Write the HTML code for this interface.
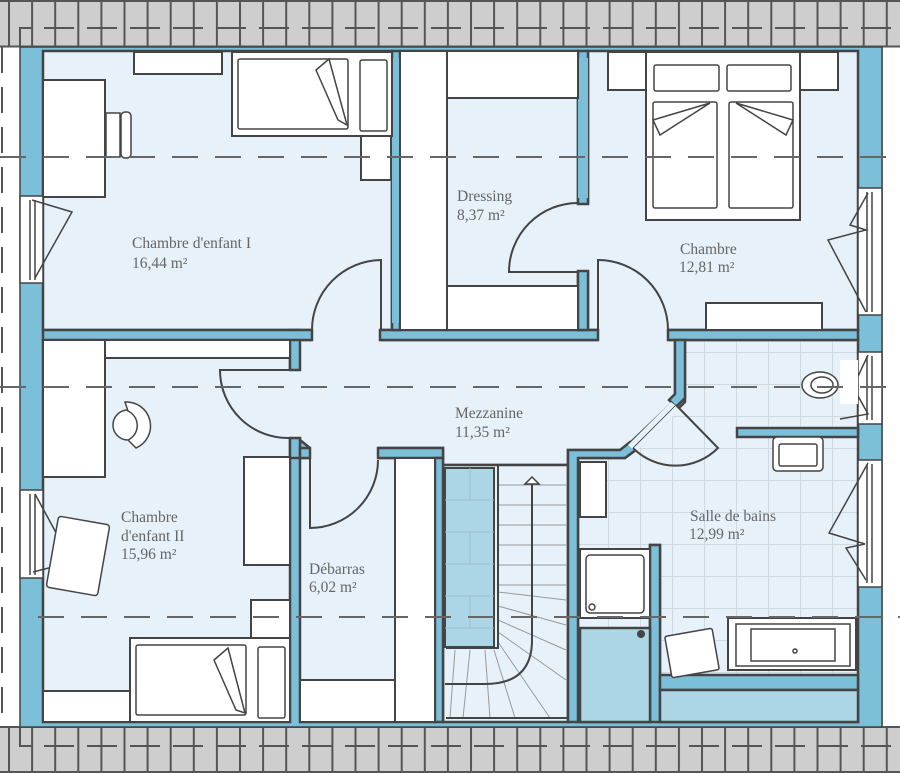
<!DOCTYPE html>
<html><head><meta charset="utf-8"><style>
html,body{margin:0;padding:0;background:#fff;}
svg{display:block;}
text{font-family:"Liberation Serif",serif;fill:#666;font-size:15.5px;}
</style></head><body>
<svg width="900" height="773" viewBox="0 0 900 773" xmlns="http://www.w3.org/2000/svg">
<defs>
<pattern id="tiles" x="0" y="0" width="32" height="32" patternUnits="userSpaceOnUse">
<rect width="32" height="32" fill="#e6f1f9"/>
<path d="M0 0.5H32M0.5 0V32" stroke="#cfd9e0" stroke-width="1"/>
</pattern>
<pattern id="roof" x="8" y="0" width="23.1" height="50" patternUnits="userSpaceOnUse">
<rect width="23.1" height="50" fill="#cecece"/>
<path d="M1 0V50" stroke="#555" stroke-width="2"/>
</pattern>
</defs>
<rect width="900" height="773" fill="#fff"/>
<rect x="0" y="0" width="900" height="47" fill="url(#roof)"/>
<rect x="0" y="0" width="900" height="2" fill="#555"/>
<rect x="0" y="45.5" width="900" height="2" fill="#555"/>
<path d="M20 47V28H900" stroke="#555" stroke-width="2" fill="none" stroke-dasharray="30 13"/>
<rect x="0" y="727" width="900" height="46" fill="url(#roof)"/>
<rect x="0" y="726" width="900" height="2" fill="#555"/>
<rect x="0" y="771" width="900" height="2" fill="#555"/>
<path d="M20 727V746H900" stroke="#555" stroke-width="2" fill="none" stroke-dasharray="30 13"/>
<path d="M2 47V727" stroke="#555" stroke-width="2" stroke-dasharray="26 14"/>
<path d="M882 47V727" stroke="#555" stroke-width="1.5"/>

<rect x="20" y="47" width="862" height="680" fill="#7bbfd9"/>
<rect x="20" y="47" width="862" height="680" fill="none" stroke="#444" stroke-width="1.5"/>

<g fill="#e6f1f9" stroke="#444" stroke-width="2.5">
<rect x="43" y="51" width="349" height="279"/>
<rect x="400" y="51" width="178" height="279"/>
<rect x="588" y="51" width="270" height="279"/>
<rect x="43" y="340" width="247" height="382"/>
<rect x="300" y="458" width="135" height="264"/>
<polygon points="300,340 675,340 675,400 630,443 620,450 568,450 568,465 443,465 443,448 310,448 300,440"/>
<rect x="443" y="465" width="125" height="257"/>
</g>
<polygon points="685,340 858,340 858,722 660,722 660,545 650,545 650,722 578,722 578,458 625,458 637,449 685,402" fill="url(#tiles)" stroke="#444" stroke-width="2.5"/>
<g fill="#e6f1f9">
<rect x="312" y="327" width="68" height="16"/>
<rect x="598" y="327" width="70" height="16"/>
<rect x="575" y="204" width="16" height="67"/>
<rect x="287" y="370" width="16" height="68"/>
<rect x="310" y="445" width="68" height="16"/>
<rect x="290" y="340" width="12" height="30"/>
</g>
<g fill="#7bbfd9" stroke="#444" stroke-width="2.5">
<rect x="290" y="330" width="10" height="40"/>
<rect x="290" y="438" width="10" height="20"/>
<rect x="300" y="448" width="10" height="10"/>
<rect x="378" y="448" width="65" height="10"/>
<rect x="43" y="330" width="269" height="10"/>
<rect x="380" y="330" width="218" height="10"/>
<rect x="668" y="330" width="190" height="10"/>
<rect x="392" y="51" width="8" height="279"/>
<rect x="578" y="51" width="10" height="153"/>
<rect x="578" y="271" width="10" height="59"/>
<polygon points="675,340 685,340 685,398 676,407 669,400 675,394"/>
<polygon points="568,450 620,450 630,442 637,449 625,458 578,458 578,722 568,722"/>
<rect x="435" y="458" width="8" height="264"/>
<rect x="737" y="428" width="121" height="9"/>
<rect x="650" y="545" width="10" height="177"/>
<rect x="660" y="675" width="198" height="15"/>
</g>
<!-- door opening cover -->
<polygon points="671,402 680,409 636,452 628,445" fill="#e6f1f9"/>
<rect x="392" y="58" width="8" height="265" fill="#7bbfd9"/>
<rect x="578" y="58" width="10" height="140" fill="#7bbfd9"/>
<rect x="660" y="690" width="198" height="32" fill="#acd6e6" stroke="#444" stroke-width="2.5"/>
<rect x="580" y="628" width="70" height="94" fill="#acd6e6" stroke="#444" stroke-width="2.5"/>
<circle cx="641" cy="634" r="4" fill="#444"/>
<rect x="445" y="468" width="49" height="179" fill="#acd6e6" stroke="#444" stroke-width="2"/>
<path d="M445 500H494M445 532H494M445 564H494M445 596H494M445 628H494M470 468V500M470 532V564M470 596V628" stroke="#9bbccb" stroke-width="1"/>

<g stroke="#999" stroke-width="1" fill="none">
<path d="M498 485H566M498 505H566M498 525H566M498 545H566M498 565H566M498 585H566"/>
<path d="M498 592L566 600M498 606L566 625M498 620L566 650M498 632L566 680M498 642L550 718M494 650L515 718M485 650L490 718M470 650L463 718M455 650L450 718"/>
</g>
<path d="M568 466V718H446" stroke="#444" stroke-width="2" fill="none"/>
<path d="M498 466V648H446" stroke="#444" stroke-width="2" fill="none"/>
<path d="M532 480V640Q532 684 485 684H445" stroke="#444" stroke-width="2" fill="none"/>
<polygon points="532,477 525,484 539,484" fill="#fff" stroke="#444" stroke-width="1.5"/>

<g fill="#fff" stroke="#444" stroke-width="1.5">
<rect x="20" y="196" width="23" height="87"/>
<rect x="20" y="490" width="23" height="88"/>
<rect x="858" y="188" width="24" height="127"/>
<rect x="858" y="352" width="24" height="72"/>
<rect x="858" y="460" width="24" height="127"/>
</g>
<g fill="none" stroke="#444" stroke-width="1.5">
<path d="M30 200V280M35 200V280M30 494V575M35 494V575M872 192V312M867 192V312M872 356V420M867 356V420M872 464V583M867 464V583"/>
<path d="M32 200L72 212L35 278"/>
<path d="M35 494L72 562L33 572"/>
<path d="M868 193L850 225L866 230L828 240L866 312"/>
<path d="M868 355L853 387L868 414L840 419"/>
<path d="M868 463L829 533L865 544L846 548L866 580"/>
</g>

<g fill="none" stroke="#444" stroke-width="2">
<path d="M381 330V260A70 70 0 0 0 312 330"/>
<path d="M598 330V260A70 70 0 0 1 668 330"/>
<path d="M578 203A69 69 0 0 0 509 272H578"/>
<path d="M290 438A68 68 0 0 1 220 370H290"/>
<path d="M310 458V528A68 68 0 0 0 378 460"/>
<path d="M676 405L718 448A60 60 0 0 1 633 448"/>
</g>
<path d="M676 405L633 448" stroke="#444" stroke-width="0.8"/>

<g fill="#fff" stroke="#444" stroke-width="2">
<rect x="43" y="80" width="62" height="117"/>
<rect x="134" y="52" width="88" height="22"/>
<rect x="232" y="52" width="160" height="84"/>
<rect x="361" y="136" width="30" height="44"/>
<rect x="400" y="51" width="47" height="279"/>
<rect x="447" y="51" width="131" height="47"/>
<rect x="447" y="286" width="131" height="44"/>
<rect x="608" y="52" width="38" height="38"/>
<rect x="800" y="52" width="38" height="38"/>
<rect x="646" y="52" width="154" height="168"/>
<rect x="706" y="303" width="116" height="27"/>
<rect x="43" y="340" width="62" height="137"/>
<rect x="105" y="340" width="185" height="18"/>
<rect x="244" y="457" width="46" height="108"/>
<rect x="251" y="600" width="39" height="38"/>
<rect x="130" y="638" width="160" height="84"/>
<rect x="43" y="691" width="87" height="31"/>
<rect x="395" y="458" width="40" height="264"/>
<rect x="300" y="680" width="95" height="42"/>
<rect x="580" y="462" width="26" height="55"/>
<rect x="580" y="549" width="70" height="69"/>
<rect x="728" y="618" width="128" height="52"/>
</g>
<g fill="#fff" stroke="#444" stroke-width="1.5">
<rect x="238" y="59" width="110" height="70" rx="2"/>
<path d="M316 70L329 59L347 125L338 120Z"/>
<rect x="360" y="60" width="27" height="71" rx="2"/>
<rect x="106" y="113" width="14" height="44"/>
<rect x="121" y="112" width="10" height="46" rx="4"/>
<rect x="654" y="65" width="65" height="26" rx="2"/>
<rect x="727" y="65" width="64" height="26" rx="2"/>
<rect x="653" y="102" width="64" height="106" rx="2"/>
<rect x="729" y="102" width="64" height="106" rx="2"/>
<path d="M653 120L710 103L660 135Z"/>
<path d="M793 120L736 103L786 135Z"/>
<rect x="136" y="645" width="110" height="70" rx="2"/>
<path d="M214 660L228 648L245 713L236 710Z"/>
<rect x="258" y="647" width="27" height="71" rx="2"/>
<circle cx="128" cy="425" r="15"/>
<path d="M125 402A24 24 0 0 1 136 448L128 440A16 16 0 0 0 128 411Z"/>
<rect x="52" y="520" width="52" height="72" rx="3" transform="rotate(10 78 556)"/>
<rect x="586" y="555" width="58" height="58" rx="4"/>
<circle cx="592" cy="607" r="3"/>
<rect x="668" y="632" width="48" height="42" rx="2" transform="rotate(-10 692 653)"/>
<rect x="736" y="624" width="114" height="42"/>
<rect x="751" y="629" width="84" height="32"/>
<circle cx="795" cy="651" r="2"/>
<rect x="773" y="437" width="50" height="34" rx="4"/>
<rect x="779" y="444" width="38" height="22" rx="2"/>
<ellipse cx="820" cy="385" rx="18" ry="13"/>
<ellipse cx="822" cy="385" rx="11" ry="8"/>
<rect x="840" y="360" width="18" height="44" stroke="none"/>
</g>
<g stroke="#666" stroke-width="2" stroke-dasharray="26 17" fill="none">
<path d="M0 157H900"/>
<path d="M0 387H900"/>
<path d="M38 617H900"/>
</g>

<text x="132" y="248">Chambre d'enfant I</text>
<text x="132" y="268">16,44 m²</text>
<text x="457" y="201">Dressing</text>
<text x="457" y="220">8,37 m²</text>
<text x="680" y="254">Chambre</text>
<text x="679" y="272">12,81 m²</text>
<text x="455" y="418">Mezzanine</text>
<text x="455" y="437">11,35 m²</text>
<text x="121" y="522">Chambre</text>
<text x="121" y="541">d'enfant II</text>
<text x="121" y="559">15,96 m²</text>
<text x="309" y="574">Débarras</text>
<text x="309" y="592">6,02 m²</text>
<text x="690" y="521">Salle de bains</text>
<text x="689" y="539">12,99 m²</text>
</svg>
</body></html>
